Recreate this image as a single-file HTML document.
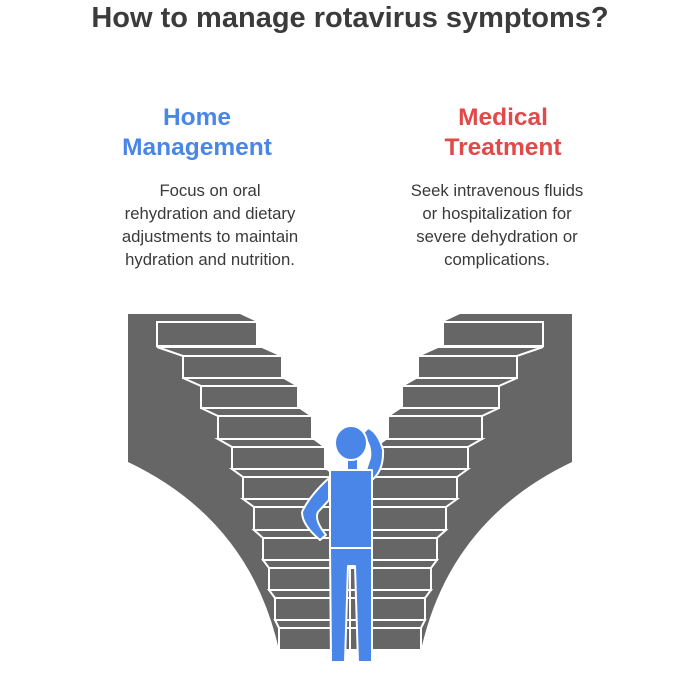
<!DOCTYPE html>
<html><head><meta charset="utf-8"><style>
html,body{margin:0;padding:0;background:#fff;width:700px;height:678px;overflow:hidden;font-family:"Liberation Sans",sans-serif}
.t{position:absolute;white-space:nowrap;text-align:center}
</style></head><body>
<div class="t" style="left:0;width:700px;top:2px;font-size:29px;font-weight:bold;color:#3b3b3b">How to manage rotavirus symptoms?</div>
<div class="t" style="left:97px;width:200px;top:103px;font-size:24.5px;font-weight:bold;color:#4a86e8;line-height:30px">Home<br>Management</div>
<div class="t" style="left:403px;width:200px;top:103px;font-size:24.5px;font-weight:bold;color:#e24a4a;line-height:30px">Medical<br>Treatment</div>
<div class="t" style="left:80px;width:260px;top:179px;font-size:16.7px;color:#3a3a3a;line-height:23px">Focus on oral<br>rehydration and dietary<br>adjustments to maintain<br>hydration and nutrition.</div>
<div class="t" style="left:367px;width:260px;top:179px;font-size:16.7px;color:#3a3a3a;line-height:23px">Seek intravenous fluids<br>or hospitalization for<br>severe dehydration or<br>complications.</div>
<svg width="700" height="678" style="position:absolute;left:0;top:0">
<defs>
<g id="half">
<path d="M128,314 L240,314 L257,322 L257,347 L282,356 L282,378 L298,386 L298,408 L312,416 L312,439 L325,447 L325,469 L337,477 L350,477 L350,650 L279,650 Q250,520 128,462 Z" fill="#666"/>
<g fill="#666" stroke="#fff" stroke-width="2">
<rect x="157" y="322" width="100" height="24"/>
<polygon points="157,347 262,347 282,356 183,356"/>
<rect x="183" y="356" width="99" height="22"/>
<polygon points="183,378 284,378 298,386 201,386"/>
<rect x="201" y="386" width="97" height="22"/>
<polygon points="201,408 300,408 312,416 218,416"/>
<rect x="218" y="416" width="94" height="23"/>
<polygon points="218,439 314,439 325,447 232,447"/>
<rect x="232" y="447" width="93" height="22"/>
<polygon points="232,469 327,469 337,477 243,477"/>
<rect x="243" y="477" width="107" height="22"/>
<polygon points="243,499 350,499 350,507 254,507"/>
<rect x="254" y="507" width="96" height="23"/>
<polygon points="254,530 350,530 350,538 263,538"/>
<rect x="263" y="538" width="87" height="22"/>
<polygon points="263,560 350,560 350,568 269,568"/>
<rect x="269" y="568" width="81" height="22"/>
<polygon points="269,590 350,590 350,598 275,598"/>
<rect x="275" y="598" width="75" height="22"/>
<polygon points="275,620 350,620 350,628 279,628"/>
<rect x="279" y="628" width="71" height="22"/>
</g>
</g>
</defs>
<use href="#half"/>
<use href="#half" transform="translate(700,0) scale(-1,1)"/>
<g fill="#4a86e8" stroke="#fff" stroke-width="2" stroke-linejoin="round">
<path d="M329,478 Q310,495 302,512 Q302,525 320,540 L326,535 Q314,520 318,512 L329,500 Z"/>
<path d="M372,480 Q384,470 383,450 Q378,432 368,428 L362,434 Q372,445 370,458 L366,470 Z"/>
<rect x="347" y="456" width="11" height="14"/>
<path d="M330,470 L372,470 L372,548 L330,548 Z"/>
<ellipse cx="351" cy="443" rx="16" ry="17"/>
<path d="M330,548 L372,548 L372,662 L358,662 L355,566 L348,566 L345,662 L331,662 Z"/>
</g>
</svg>
</body></html>
